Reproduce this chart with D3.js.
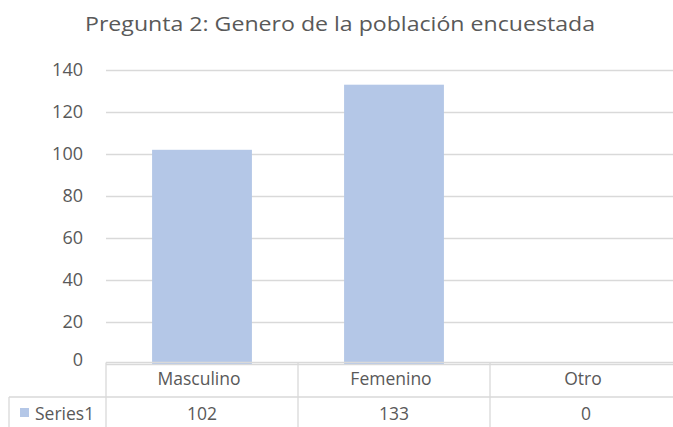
<!DOCTYPE html>
<html>
<head>
<meta charset="utf-8">
<script src="https://cdn.jsdelivr.net/npm/d3@7"></script>
<style>
  body { margin: 0; background: #fff; }
  svg text { font-family: "Open Sans", "Noto Sans", sans-serif; fill: #595959; }
</style>
</head>
<body>
<div id="chart"></div>
<script>
const CATEGORIES = ["Masculino", "Femenino", "Otro"];
const VALUES = [102, 133, 0];
const SERIES_NAME = "Series1";
const Y_TICKS = [0, 20, 40, 60, 80, 100, 120, 140];
const TITLE = "Pregunta 2: Genero de la población encuestada";

const SVG_WIDTH = 673;
const SVG_HEIGHT = 427;
const X_LEFT = 106;
const X_RIGHT = 682;   // plot runs past the visible edge
const Y_TOP = 70;
const Y_ZERO = 364;
const BAR_COLOR = "#b4c7e7";
const GRID_COLOR = "#d9d9d9";

const svg = d3.select("#chart")
  .append("svg")
  .attr("width", SVG_WIDTH)
  .attr("height", SVG_HEIGHT);

const xScale = d3.scaleBand()
  .domain(CATEGORIES)
  .range([X_LEFT, X_RIGHT])
  .paddingInner(0.48)
  .paddingOuter(0.24);

const yScale = d3.scaleLinear()
  .domain([0, 140])
  .range([Y_ZERO, Y_TOP]);

// title
svg.append("text")
  .attr("x", 85)
  .attr("y", 31)
  .attr("textLength", 510)
  .attr("lengthAdjust", "spacingAndGlyphs")
  .style("font-size", "19.5px")
  .text(TITLE);

// gridlines + y labels
const yAxis = svg.append("g")
  .attr("class", "y-axis")
  .attr("transform", `translate(${X_LEFT},0)`)
  .call(d3.axisLeft(yScale).tickValues(Y_TICKS).tickSize(-(SVG_WIDTH - X_LEFT)).tickPadding(23));
yAxis.select(".domain").remove();
yAxis.selectAll(".tick line")
  .attr("stroke", GRID_COLOR)
  .attr("stroke-width", 1.3);
yAxis.selectAll(".tick text")
  .style("font-size", "18px")
  .style("fill", "#595959");
yAxis.selectAll(".tick").filter(d => d === 0).select("text").attr("dy", "0.1em");

// bars
svg.append("g")
  .selectAll("rect")
  .data(VALUES)
  .join("rect")
  .attr("x", (d, i) => xScale(CATEGORIES[i]))
  .attr("y", d => yScale(d))
  .attr("width", xScale.bandwidth())
  .attr("height", d => Y_ZERO - yScale(d))
  .attr("fill", BAR_COLOR);

// data table
const ROW1 = 362.5;
const ROW2 = 397;
const table = svg.append("g").attr("class", "table");
const step = xScale.step();
const colEdges = CATEGORIES.map((c, i) => X_LEFT + i * step);

table.append("line")
  .attr("x1", X_LEFT).attr("x2", SVG_WIDTH)
  .attr("y1", ROW1).attr("y2", ROW1);
table.append("line")
  .attr("x1", 9).attr("x2", SVG_WIDTH)
  .attr("y1", ROW2).attr("y2", ROW2);
table.append("line")
  .attr("x1", 9).attr("x2", 9)
  .attr("y1", ROW2).attr("y2", SVG_HEIGHT);
table.selectAll("line.col")
  .data(colEdges)
  .join("line")
  .attr("class", "col")
  .attr("x1", d => d).attr("x2", d => d)
  .attr("y1", ROW1).attr("y2", SVG_HEIGHT);
table.selectAll("line")
  .attr("stroke", GRID_COLOR)
  .attr("stroke-width", 1.3);

table.selectAll("text.cat")
  .data(CATEGORIES)
  .join("text")
  .attr("class", "cat")
  .attr("x", d => xScale(d) + xScale.bandwidth() / 2 - 3)
  .attr("y", 385)
  .attr("text-anchor", "middle")
  .style("font-size", "17.5px")
  .text(d => d);

table.selectAll("text.val")
  .data(VALUES)
  .join("text")
  .attr("class", "val")
  .attr("x", (d, i) => xScale(CATEGORIES[i]) + xScale.bandwidth() / 2)
  .attr("y", 420)
  .attr("text-anchor", "middle")
  .style("font-size", "17.5px")
  .text(d => d);

// legend key in table
table.append("rect")
  .attr("x", 20).attr("y", 408)
  .attr("width", 9).attr("height", 9)
  .attr("fill", BAR_COLOR);
table.append("text")
  .attr("x", 35)
  .attr("y", 420)
  .style("font-size", "17.5px")
  .text(SERIES_NAME);
</script>
</body>
</html>
